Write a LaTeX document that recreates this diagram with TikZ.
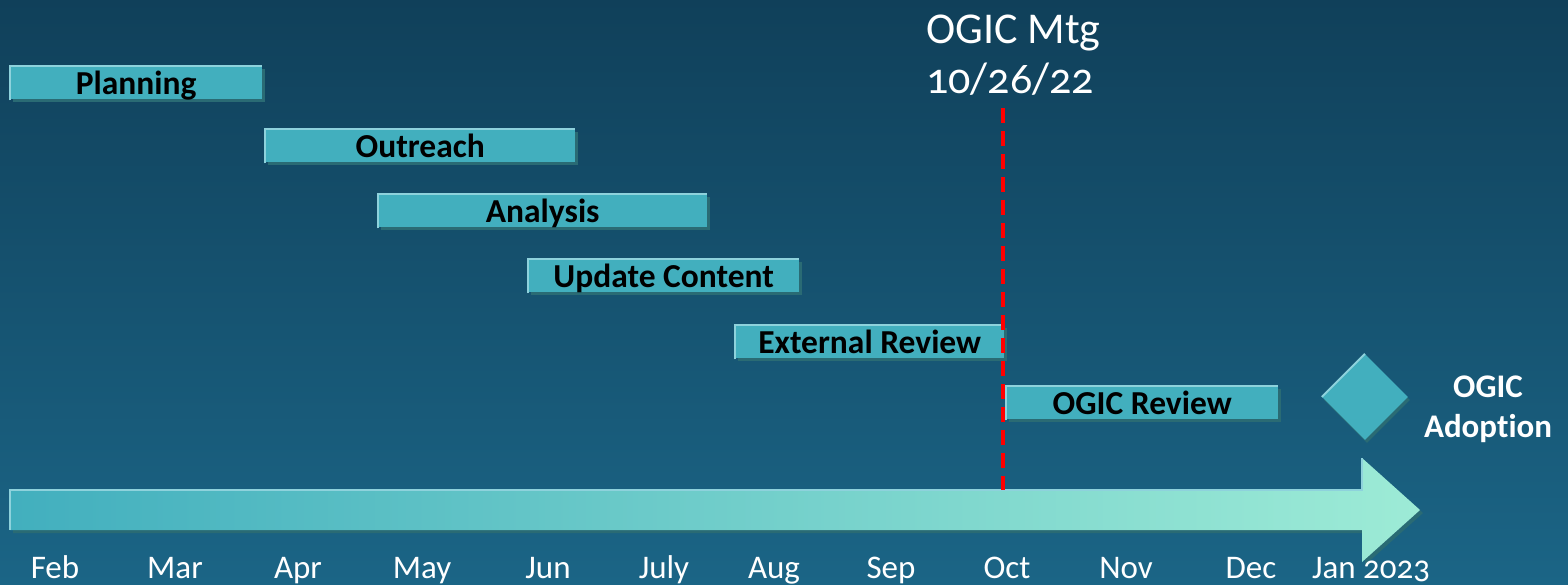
\documentclass[tikz,border=0pt]{standalone}
\usepackage{fontspec}
\setmainfont{Carlito}[Ligatures=NoCommon, Numbers=OldStyle]
\usetikzlibrary{shapes.geometric,shadows}
\definecolor{bgtop}{HTML}{10405A}
\definecolor{bgbot}{HTML}{1B6586}
\definecolor{barfill}{HTML}{42AFBE}
\definecolor{barshadow}{HTML}{2A6B74}
\definecolor{barlight}{HTML}{8ED2DC}
\definecolor{arrowend}{HTML}{9DEBD6}
\tikzset{
  taskbar/.style={draw=none, fill=barfill, rectangle, inner sep=0pt, anchor=north west,
    font=\fontsize{33.5}{38}\selectfont\bfseries, text=black, text height=24pt, text depth=0pt,
    drop shadow={shadow xshift=3pt, shadow yshift=-3pt, fill=barshadow, opacity=1}},
  hilite/.style={barlight, line width=2pt},
  month/.style={font=\fontsize{33}{36}\selectfont, text=white, anchor=base, inner sep=0pt},
  mtgtext/.style={font=\fontsize{44}{50}\selectfont, text=white, anchor=base west, inner sep=0pt},
}
\newcommand{\taskbar}[6]{%
  \node[taskbar, minimum width={#4-#2}, minimum height={#5-#3}] (#1) at (#2,#3) {#6};
  \draw[hilite] ([yshift=-1pt]#1.south west) -- (#1.north west) -- (#1.north east);
}
\begin{document}
\begin{tikzpicture}[x=1pt,y=-1pt]
\useasboundingbox (0,0) rectangle (1568,584);
\shade[top color=bgtop, bottom color=bgbot] (0,0) rectangle (1568,584);

% big arrow
\fill[barshadow] (13,493) -- (1365,493) -- (1365,461) -- (1423,513) -- (1365,565) -- (1365,533) -- (13,533) -- cycle;
\shade[left color=barfill, right color=arrowend] (10,490) -- (1362,490) -- (1362,458) -- (1420,510) -- (1362,562) -- (1362,530) -- (10,530) -- cycle;
\draw[barlight, line width=2pt] (10,530) -- (10,490) -- (1362,490) -- (1362,458);

% task bars
\taskbar{plan}{10}{66}{262}{99}{Planning}
\taskbar{outr}{265}{129}{575}{162}{Outreach}
\taskbar{anal}{378}{194}{707}{227}{Analysis}
\taskbar{upd}{528}{259}{799}{292}{Update Content}
\taskbar{ext}{735}{325}{1004}{358}{External Review}
\taskbar{ogr}{1006}{386}{1278}{419}{OGIC Review}

% milestone diamond
\node[diamond, fill=barfill, inner sep=0pt, minimum width=86pt, minimum height=86pt,
  drop shadow={shadow xshift=2pt, shadow yshift=-3pt, fill=barshadow, opacity=1}] (dia) at (1365,397) {};
\draw[barlight, line width=2pt] (dia.west) -- (dia.north);
\node[font=\fontsize{33}{40}\selectfont\bfseries, text=white, align=center, inner sep=0pt] (adopt) at (1488,409) {OGIC\\Adoption};

% meeting marker
\coordinate (mtop) at (1003,108);
\coordinate (mbot) at (1003,490);
\draw[red, line width=3.5pt, dash pattern=on 15pt off 8pt] (mtop) -- (mbot);
\node[mtgtext] (mtg) at (926,43) {OGIC Mtg};
\node[mtgtext] (mtgdate) at (926,93) {10/26/22};

% months
\node[month] (feb) at (55,578) {Feb};
\node[month] (mar) at (175,578) {Mar};
\node[month] (apr) at (298,578) {Apr};
\node[month] (may) at (422,578) {May};
\node[month] (jun) at (548,578) {Jun};
\node[month] (jul) at (664,578) {July};
\node[month] (aug) at (774,578) {Aug};
\node[month] (sep) at (891,578) {Sep};
\node[month] (oct) at (1007,578) {Oct};
\node[month] (nov) at (1126,578) {Nov};
\node[month] (dec) at (1251,578) {Dec};
\node[month] (jan) at (1371,578) {Jan 2023};
\end{tikzpicture}
\end{document}
